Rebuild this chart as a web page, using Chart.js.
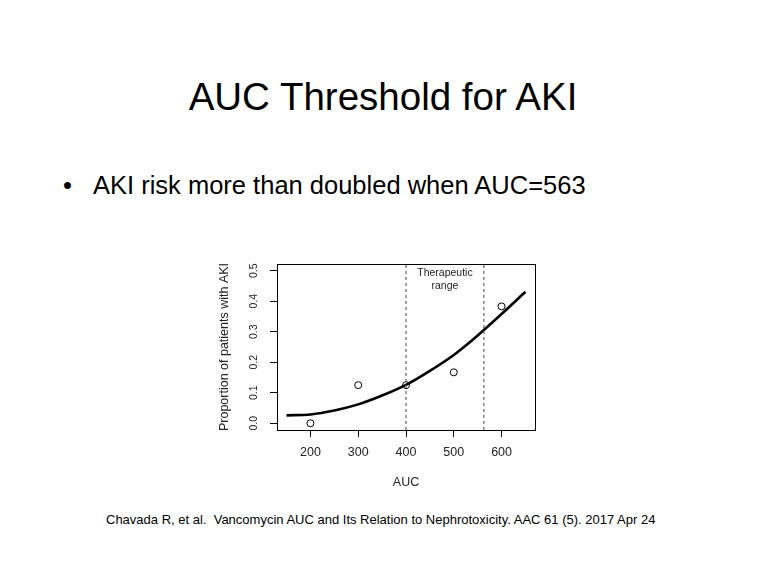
<!DOCTYPE html>
<html>
<head>
<meta charset="utf-8">
<script src="https://cdn.jsdelivr.net/npm/chart.js@4.4.1/dist/chart.umd.min.js"></script>
<style>
	body { margin: 0; background: #fff; width: 768px; height: 578px; overflow: hidden; position: relative; font-family: "Liberation Sans", Arial, sans-serif; color: #000; }
	.t { position: absolute; white-space: nowrap; line-height: 1; }
	#title { left: 0; width: 766px; top: 78px; text-align: center; font-size: 38.5px; }
	#dot { left: 63px; top: 173px; font-size: 25.5px; }
	#bullet { left: 93px; top: 173px; font-size: 25.5px; }
	#cite { left: 106px; top: 513px; font-size: 13px; }
	#wrap { position: absolute; left: 200px; top: 255px; width: 345px; height: 250px; }
</style>
</head>
<body>
<div id="title" class="t">AUC Threshold for AKI</div>
<div id="dot" class="t">•</div>
<div id="bullet" class="t">AKI risk more than doubled when AUC=563</div>
<div id="cite" class="t">Chavada R, et al.&nbsp; Vancomycin AUC and Its Relation to Nephrotoxicity. AAC 61 (5). 2017 Apr 24</div>
<div id="wrap"><canvas id="aki" width="345" height="250"></canvas></div>
<script>
// observed proportion of AKI per AUC group
var pointAUC = [200, 300, 400, 500, 600];
var pointAKI = [0.0, 0.125, 0.125, 0.167, 0.383];

// fitted curve
var curveAUC = [150, 200, 250, 300, 350, 400, 450, 500, 550, 600, 650];
var curveAKI = [0.026, 0.029, 0.042, 0.062, 0.091, 0.126, 0.172, 0.224, 0.288, 0.358, 0.431];

// therapeutic range bounds
var rangeAUC = [400, 563];

var xTicks = [200, 300, 400, 500, 600];
var yTicks = [0.0, 0.1, 0.2, 0.3, 0.4, 0.5];
var xMin = 130, xMax = 670, yMin = -0.022, yMax = 0.522;

var font = '"Liberation Sans", Arial, sans-serif';

var datasets = [];
rangeAUC.forEach(function (v) {
	datasets.push({
		type: 'line',
		data: [{x: v, y: yMin}, {x: v, y: yMax}],
		borderColor: '#666',
		borderWidth: 1.2,
		borderDash: [3, 3],
		pointRadius: 0,
		fill: false
	});
});
datasets.push({
	type: 'line',
	data: curveAUC.map(function (x, i) { return {x: x, y: curveAKI[i]}; }),
	borderColor: '#000',
	borderWidth: 2.6,
	cubicInterpolationMode: 'monotone',
	pointRadius: 0,
	fill: false
});
datasets.push({
	type: 'scatter',
	data: pointAUC.map(function (x, i) { return {x: x, y: pointAKI[i]}; }),
	borderColor: '#000',
	backgroundColor: 'rgba(0,0,0,0)',
	borderWidth: 1,
	pointRadius: 3.5
});

var frame = {
	id: 'frame',
	afterDraw: function (chart) {
		var ctx = chart.ctx, a = chart.chartArea, ys = chart.scales.y, xs = chart.scales.x;
		ctx.save();
		ctx.strokeStyle = '#000';
		ctx.lineWidth = 1;
		ctx.strokeRect(a.left + 0.5, a.top + 0.5, a.right - a.left, a.bottom - a.top);
		// rotated y tick labels, R style
		ctx.fillStyle = '#222';
		ctx.font = '10.5px ' + font;
		ctx.textAlign = 'center';
		ctx.textBaseline = 'middle';
		yTicks.forEach(function (v) {
			ctx.save();
			ctx.translate(a.left - 23, ys.getPixelForValue(v));
			ctx.rotate(-Math.PI / 2);
			ctx.fillText(v.toFixed(1), 0, 0);
			ctx.restore();
		});
		// range label
		var mid = xs.getPixelForValue((rangeAUC[0] + rangeAUC[1]) / 2);
		ctx.font = '10.5px ' + font;
		ctx.fillText('Therapeutic', mid, a.top + 9);
		ctx.fillText('range', mid, a.top + 22);
		ctx.restore();
	}
};

new Chart(document.getElementById('aki'), {
	type: 'scatter',
	data: { datasets: datasets },
	options: {
		responsive: false,
		animation: false,
		devicePixelRatio: 1,
		layout: { padding: { left: 0, top: 9, right: 10, bottom: 0 } },
		plugins: { legend: { display: false }, tooltip: { enabled: false } },
		scales: {
			x: {
				type: 'linear',
				min: xMin,
				max: xMax,
				afterBuildTicks: function (s) { s.ticks = xTicks.map(function (v) { return {value: v}; }); },
				afterFit: function (s) { s.height = 75; },
				grid: { drawOnChartArea: false, drawTicks: true, tickLength: 7, color: '#000' },
				border: { display: false },
				ticks: { color: '#222', padding: 8, maxRotation: 0, font: { family: font, size: 12.5 } },
				title: { display: true, text: 'AUC', color: '#222', padding: { top: 0, bottom: 15 }, font: { family: font, size: 12.5 } }
			},
			y: {
				type: 'linear',
				min: yMin,
				max: yMax,
				afterBuildTicks: function (s) { s.ticks = yTicks.map(function (v) { return {value: v}; }); },
				afterFit: function (s) { s.width = 77; },
				grid: { drawOnChartArea: false, drawTicks: true, tickLength: 7, color: '#000' },
				border: { display: false },
				ticks: { display: false },
				title: { display: true, text: 'Proportion of patients with AKI', color: '#222', padding: { top: 17, bottom: 0 }, font: { family: font, size: 12.5 } }
			}
		}
	},
	plugins: [frame]
});
</script>
</body>
</html>
